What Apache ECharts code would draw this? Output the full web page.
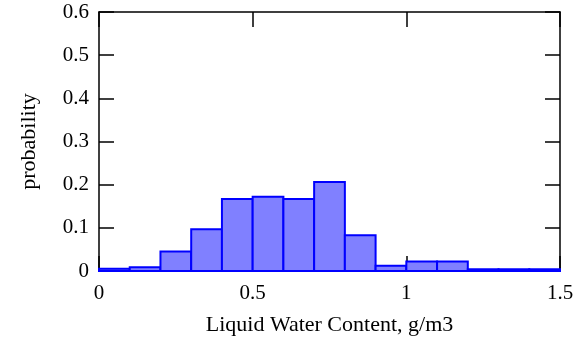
<!DOCTYPE html>
<html><head><meta charset="utf-8">
<script src="https://cdn.jsdelivr.net/npm/echarts@6/dist/echarts.min.js"></script>
<style>html,body{margin:0;padding:0;background:#fff}#c{width:578px;height:346px}</style>
</head><body><div id="c"></div>
<script>
const binStarts = [0,0.1,0.2,0.3,0.4,0.5,0.6,0.7,0.8,0.9,1.0,1.1,1.2,1.3,1.4];
const binWidth = 0.1;
const probability = [0.005,0.0085,0.045,0.097,0.167,0.172,0.167,0.206,0.083,0.012,0.022,0.022,0.004,0.004,0.004];
const xTitle = 'Liquid Water Content, g/m3';
const yTitle = 'probability';

const data = binStarts.map((s,i)=>[s, s+binWidth, probability[i]]);
const font = 'Liberation Serif';
const chart = echarts.init(document.getElementById('c'), null, {renderer:'canvas'});
const tickStyle = {show:true, inside:true, length:15, lineStyle:{color:'#000', width:1.5}};
const lineStyle = {show:true, onZero:false, lineStyle:{color:'#000', width:1.5}};
chart.setOption({
  animation:false,
  grid:{left:99, right:18, top:12, bottom:75},
  xAxis:[
    {type:'value', min:0, max:1.5, interval:0.5, position:'bottom',
     axisLine:lineStyle, axisTick:tickStyle, splitLine:{show:false},
     axisLabel:{color:'#000', fontFamily:font, fontSize:21, margin:12},
     name:xTitle, nameLocation:'middle', nameGap:43,
     nameTextStyle:{color:'#000', fontFamily:font, fontSize:22}},
    {type:'value', min:0, max:1.5, interval:0.5, position:'top',
     axisLine:lineStyle, axisTick:tickStyle, splitLine:{show:false}, axisLabel:{show:false}}
  ],
  yAxis:[
    {type:'value', min:0, max:0.6, interval:0.1, position:'left',
     axisLine:lineStyle, axisTick:tickStyle, splitLine:{show:false},
     axisLabel:{color:'#000', fontFamily:font, fontSize:21, margin:10},
     name:yTitle, nameLocation:'middle', nameGap:59,
     nameTextStyle:{color:'#000', fontFamily:font, fontSize:22}},
    {type:'value', min:0, max:0.6, interval:0.1, position:'right',
     axisLine:lineStyle, axisTick:tickStyle, splitLine:{show:false}, axisLabel:{show:false}}
  ],
  series:[{
    type:'custom',
    xAxisIndex:0, yAxisIndex:0,
    data:data,
    renderItem:function(params, api){
      const p0 = api.coord([api.value(0), api.value(2)]);
      const p1 = api.coord([api.value(1), 0]);
      return {type:'rect', shape:{x:p0[0], y:p0[1], width:p1[0]-p0[0], height:p1[1]-p0[1]},
        style:{fill:'#8080ff', stroke:'#0000ff', lineWidth:2}};
    },
    encode:{x:[0,1], y:2}
  }]
});
</script></body></html>
